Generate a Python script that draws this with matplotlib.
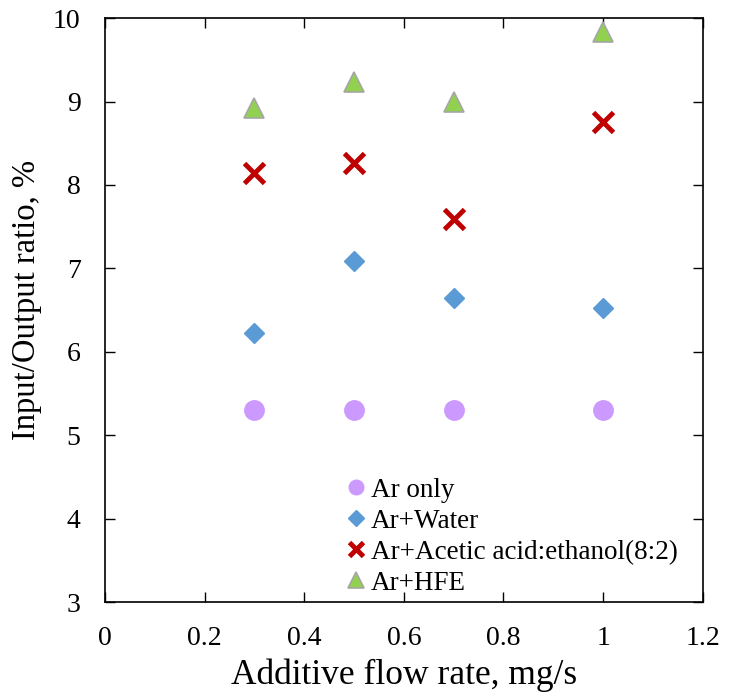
import matplotlib
matplotlib.use("Agg")
import matplotlib.pyplot as plt

plt.rcParams['font.family'] = ['Liberation Serif', 'DejaVu Serif']

# data
flow_rate = [0.3, 0.5, 0.7, 1.0]
ar_only = [5.30, 5.30, 5.30, 5.30]
ar_water = [6.22, 7.09, 6.65, 6.53]
ar_acetic = [8.14, 8.26, 7.59, 8.76]
ar_hfe = [8.92, 9.24, 8.99, 9.83]

fig = plt.figure(figsize=(7.29, 7.00), dpi=100)
ax = fig.add_axes([0.144, 0.14, 0.82, 0.834])

ax.plot(flow_rate, ar_only, linestyle='none', marker='o', markersize=14,
        color='#CC99FF', markeredgecolor='#CC99FF', label='Ar only')
ax.plot(flow_rate, ar_water, linestyle='none', marker='D', markersize=10.5,
        color='#5B9BD5', markeredgecolor='#5B9BD5', label='Ar+Water')
ax.plot(flow_rate, ar_acetic, linestyle='none', marker='x', markersize=14,
        markeredgewidth=3.5, color='#C00000', label='Ar+Acetic acid:ethanol(8:2)')
ax.plot(flow_rate, ar_hfe, linestyle='none', marker='^', markersize=15,
        color='#92D050', markeredgecolor='#A6A6A6', markeredgewidth=1.2, label='Ar+HFE')

ax.set_xlim(0, 1.2)
ax.set_ylim(3, 10)
ax.set_xticks([0, 0.2, 0.4, 0.6, 0.8, 1.0, 1.2])
ax.set_xticklabels(['0', '0.2', '0.4', '0.6', '0.8', '1', '1.2'])
ax.set_yticks(range(3, 11))

ax.tick_params(direction='in', length=7, width=1, labelsize=20,
               top=True, right=True, pad=17)
ax.tick_params(axis='y', pad=17.5)
for s in ax.spines.values():
    s.set_linewidth(1.2)

ax.set_xlabel('Additive flow rate, mg/s', fontsize=25.5, labelpad=6)
ax.set_ylabel('Input/Output ratio, %', fontsize=23.5)
ax.yaxis.set_label_coords(-0.106, 0.517)

ax.legend(loc='lower left', bbox_to_anchor=(0.375, -0.017), frameon=False,
          fontsize=19.5, handlelength=0.8, handletextpad=0.15,
          labelspacing=0.22, markerscale=0.75, borderaxespad=0.2)

fig.savefig('out.png', dpi=100)
